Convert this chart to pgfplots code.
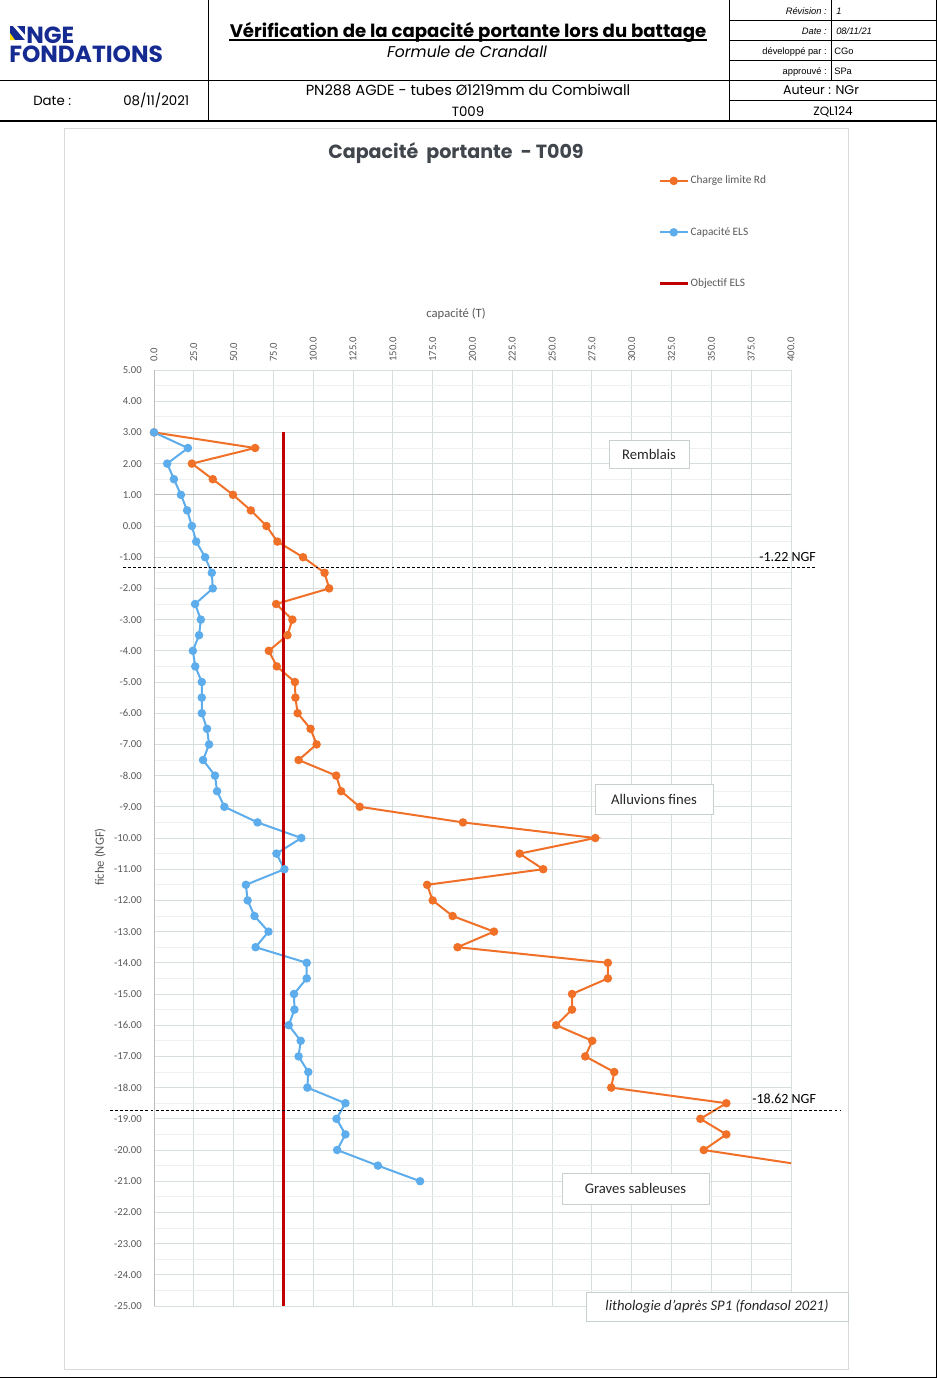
\documentclass[border=0pt]{standalone}
\usepackage{fontspec}
\setmainfont{Carlito}
\newfontfamily\gothic{Poppins}
\newfontfamily\arialf{Liberation Sans}
\usepackage{pgfplots}
\usepackage{pgfplotstable}
\pgfplotsset{compat=1.18}
\definecolor{corange}{RGB}{240,112,40}
\definecolor{cblue}{RGB}{93,173,236}
\definecolor{cred}{RGB}{192,0,0}
\definecolor{gridc}{RGB}{214,222,222}
\definecolor{gridm}{RGB}{236,240,240}
\definecolor{ticktxt}{RGB}{89,89,89}
\definecolor{ttlc}{RGB}{64,70,76}
\definecolor{navy}{RGB}{22,43,145}
\definecolor{boxc}{RGB}{200,208,208}
\definecolor{framec}{RGB}{217,217,217}
\definecolor{axc}{RGB}{190,190,190}

\pgfplotstableread{
y v
3.0 0
2.5 63.5
2.0 23.8
1.5 36.9
1.0 49.6
0.5 60.8
0.0 70.6
-0.5 77.5
-1.0 93.6
-1.5 107.1
-2.0 110
-2.5 76.7
-3.0 86.9
-3.5 83.8
-4.0 72.1
-4.5 77.1
-5.0 88.5
-5.5 88.8
-6.0 90.2
-6.5 98.3
-7.0 102.1
-7.5 90.8
-8.0 114.4
-8.5 117.5
-9.0 129.2
-9.5 194
-10.0 277.1
-10.5 229.6
-11.0 244.4
-11.5 171.5
-12.0 175
-12.5 187.5
-13.0 213.5
-13.5 190.6
-14.0 285
-14.5 285
-15.0 262.5
-15.5 262.5
-16.0 252.5
-16.5 275.2
-17.0 270.8
-17.5 289
-18.0 287.1
-18.5 359.4
-19.0 343.1
-19.5 359.4
-20.0 345.2
-20.5 410
}\charge

\pgfplotstableread{
y v
3.0 0
2.5 21.3
2.0 8.3
1.5 12.5
1.0 16.9
0.5 20.8
0.0 23.8
-0.5 26.5
-1.0 32.1
-1.5 36.3
-2.0 36.9
-2.5 25.8
-3.0 29.4
-3.5 28.3
-4.0 24.4
-4.5 25.9
-5.0 30
-5.5 30
-6.0 30
-6.5 33.3
-7.0 34.6
-7.5 30.8
-8.0 38.3
-8.5 39.6
-9.0 44.2
-9.5 65
-10.0 92.5
-10.5 76.9
-11.0 81.9
-11.5 57.7
-12.0 58.8
-12.5 63.1
-13.0 71.9
-13.5 63.8
-14.0 95.9
-14.5 95.9
-15.0 87.9
-15.5 88.2
-16.0 84.6
-16.5 92.1
-17.0 90.8
-17.5 96.9
-18.0 96.3
-18.5 120.2
-19.0 114.6
-19.5 120.2
-20.0 115
-20.5 140.6
-21.0 167.1
}\capels

\begin{document}
\begin{tikzpicture}
\path[use as bounding box] (0pt,0pt) rectangle (702.75pt,-1033.5pt);
\begin{scope}[x=0.75pt,y=-0.75pt]
\fill[white] (0,0) rectangle (937,1378);
\draw[framec, line width=0.75pt, fill=white] (64.5,128.5) rectangle (848,1369);
\end{scope}

\begin{axis}[
  at={(115.5pt,-277.5pt)}, anchor=north west,
  scale only axis, width=477.75pt, height=702pt,
  xmin=0, xmax=400, ymin=-25, ymax=5,
  xtick={0,25,...,400},
  ytick={-25,-24,...,5},
  minor ytick={-24.5,-23.5,...,4.5},
  xticklabel pos=upper,
  major tick length=0pt, minor tick length=0pt,
  axis line style={draw=none},
  grid=both,
  major grid style={gridc, line width=0.75pt},
  minor grid style={gridm, line width=0.75pt},
  /pgf/number format/assume math mode=true,
  xticklabel style={rotate=90, anchor=west, inner sep=0pt,
     font=\fontsize{8}{8}\selectfont, text=ticktxt,
     /pgf/number format/.cd, fixed, fixed zerofill, precision=1},
  yticklabel style={anchor=east, inner sep=0pt,
     font=\fontsize{8}{8}\selectfont, text=ticktxt,
     /pgf/number format/.cd, fixed, fixed zerofill, precision=2},
  xticklabel shift=6pt,
  yticklabel shift=9pt,
  legend cell align=left,
  legend style={at={(0.7912,1.209)}, anchor=north west, draw=none, fill=none,
     inner sep=0pt, row sep=29.2pt, font=\fontsize{8.5}{9}\selectfont,
     text=ticktxt, nodes={inner sep=1pt}},
  legend image code/.code={
     \draw[#1, mark=none] (0pt,0pt) -- (21pt,0pt);
     \draw[#1] plot coordinates {(10.5pt,0pt)};
  },
]
\draw[axc, line width=0.75pt] (axis cs:0,5) -- (axis cs:0,-25);
\draw[axc, line width=0.75pt] (axis cs:0,1) -- (axis cs:400,1);
\addplot[corange, line width=1.5pt, mark=*, mark size=2.4pt,
  mark options={solid, fill=corange, draw=corange},
  mark indices={1,2,3,4,5,6,7,8,9,10,11,12,13,14,15,16,17,18,19,20,21,22,23,24,25,26,27,28,29,30,31,32,33,34,35,36,37,38,39,40,41,42,43,44,45,46,47}]
  table[x=v, y=y] {\charge};
\addlegendentry{Charge limite Rd}
\addplot[cblue, line width=1.5pt, mark=*, mark size=2.4pt,
  mark options={solid, fill=cblue, draw=cblue}]
  table[x=v, y=y] {\capels};
\addlegendentry{Capacité ELS}
\addplot[cred, line width=2.25pt] coordinates {(81.5,3) (81.5,-25)};
\addlegendentry{Objectif ELS}
\end{axis}

\begin{scope}[x=0.75pt,y=-0.75pt]
% ---- header frame
\draw[black, line width=0.75pt] (208,0) -- (208,121);
\draw[black, line width=0.75pt] (0,80) -- (729,80);
\draw[black, line width=1pt] (0,121) -- (936,121);
\draw[black, line width=0.75pt] (729,0) -- (729,121);
\draw[black, line width=0.75pt] (831,0) -- (831,80);
\foreach \yy in {20,40,60,80,100} \draw[black, line width=0.75pt] (729,\yy) -- (936,\yy);
\draw[black, line width=0.75pt] (936,0) -- (936,1377) -- (0,1377);
% ---- logo
\fill[navy] (10,26) -- (25,26) -- (25,40) -- (10,40) -- cycle;
\fill[white] (13,26) -- (17,26) -- (25,35) -- (25,40) -- cycle;
\fill[yellow!80!orange] (10,33) -- (10,40) -- (15,40) -- cycle;
\node[anchor=north west, inner sep=0pt, align=left, text=navy, font=\gothic\bfseries\fontsize{17.5}{14.6}\selectfont] at (9,26.5) {\hspace*{12.75pt}NGE\\FONDATIONS};
% ---- titles
\node[anchor=base, inner sep=0pt, font=\gothic\bfseries\fontsize{13.6}{13.6}\selectfont] (ttl) at (468,37) {Vérification de la capacité portante lors du battage};
\draw[black, line width=1.5pt] ([yshift=-2.6pt]ttl.base west) -- ([yshift=-2.6pt]ttl.base east);
\node[anchor=base, inner sep=0pt, font=\gothic\itshape\fontsize{11.7}{11.7}\selectfont] at (467,57) {Formule de Crandall};
\node[anchor=base, inner sep=0pt, font=\gothic\fontsize{11}{11}\selectfont] at (468,95) {PN288 AGDE - tubes Ø1219mm du Combiwall};
\node[anchor=base, inner sep=0pt, font=\gothic\fontsize{10}{10}\selectfont] at (468,116.5) {T009};
\node[anchor=base west, inner sep=0pt, font=\gothic\fontsize{10}{10}\selectfont] at (33,105.5) {Date :};
\node[anchor=base west, inner sep=0pt, font=\gothic\fontsize{10}{10}\selectfont] at (123,105.5) {08/11/2021};
% right block
\node[anchor=base east, inner sep=0pt, font=\arialf\itshape\fontsize{7}{7}\selectfont] at (827,14.5) {Révision :};
\node[anchor=base west, inner sep=0pt, font=\arialf\itshape\fontsize{7}{7}\selectfont] at (836,14.5) {1};
\node[anchor=base east, inner sep=0pt, font=\arialf\itshape\fontsize{7}{7}\selectfont] at (827,34.5) {Date :};
\node[anchor=base west, inner sep=0pt, font=\arialf\itshape\fontsize{7}{7}\selectfont] at (836,34.5) {08/11/21};
\node[anchor=base east, inner sep=0pt, font=\arialf\fontsize{7}{7}\selectfont] at (827,54.5) {développé par :};
\node[anchor=base west, inner sep=0pt, font=\arialf\fontsize{7}{7}\selectfont] at (834,54.5) {CGo};
\node[anchor=base east, inner sep=0pt, font=\arialf\fontsize{7}{7}\selectfont] at (827,74.5) {approuvé :};
\node[anchor=base west, inner sep=0pt, font=\arialf\fontsize{7}{7}\selectfont] at (834,74.5) {SPa};
\node[anchor=base, inner sep=0pt, font=\gothic\fontsize{9.5}{9.5}\selectfont] at (821,94.5) {Auteur : NGr};
\node[anchor=base, inner sep=0pt, font=\gothic\fontsize{9}{9}\selectfont] at (833,115.5) {ZQL124};
% ---- chart texts
\node[font=\gothic\bfseries\fontsize{14.3}{14.3}\selectfont, text=ttlc] at (456,153) {Capacité\ \ portante\ \ - T009};
\node[font=\fontsize{9.5}{9.5}\selectfont, text=ticktxt] at (456,314) {capacité (T)};
\node[rotate=90, font=\fontsize{9.5}{9.5}\selectfont, text=ticktxt] at (100,857) {fiche (NGF)};
% dashed limits
\draw[black, line width=0.75pt, dash pattern=on 2.2pt off 1.6pt] (123,567.5) -- (817,567.5);
\draw[black, line width=0.75pt, dash pattern=on 2.2pt off 1.6pt] (110,1110) -- (840,1110);
\node[anchor=west, inner sep=0pt, font=\fontsize{10.5}{10.5}\selectfont] at (759,557) {-1.22 NGF};
\node[anchor=west, inner sep=0pt, font=\fontsize{10.5}{10.5}\selectfont] at (752,1099) {-18.62 NGF};
% litho boxes
\draw[boxc, line width=0.75pt, fill=white] (609,440) rectangle (689,468);
\node[font=\fontsize{11}{11}\selectfont, text=black!85] at (649,454) {Remblais};
\draw[boxc, line width=0.75pt, fill=white] (595,784) rectangle (713,814);
\node[font=\fontsize{11}{11}\selectfont, text=black!85] at (654,799) {Alluvions fines};
\draw[boxc, line width=0.75pt, fill=white] (562,1173) rectangle (709,1204);
\node[font=\fontsize{11}{11}\selectfont, text=black!85] at (635.5,1188.5) {Graves sableuses};
\draw[boxc, line width=0.75pt, fill=white] (586,1292) rectangle (848,1321);
\node[font=\itshape\fontsize{11}{11}\selectfont, text=black!85] at (717,1306.5) {lithologie d'après SP1 (fondasol 2021)};
\end{scope}
\end{tikzpicture}
\end{document}
